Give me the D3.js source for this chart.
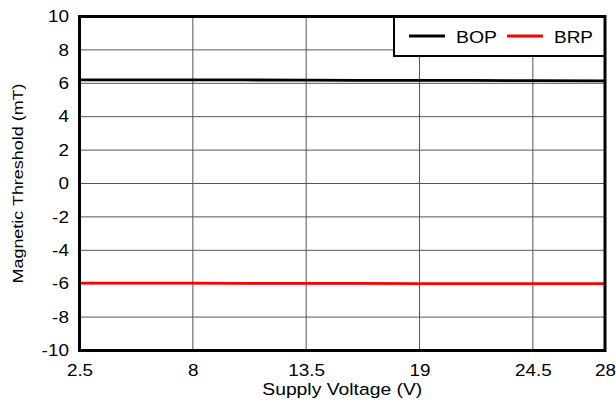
<!DOCTYPE html>
<html><head><meta charset="utf-8">
<script src="https://cdn.jsdelivr.net/npm/d3@7"></script>
<style>body{margin:0;background:#fff}text{font-family:"Liberation Sans",Arial,sans-serif}</style>
</head><body><svg id="c" width="616" height="404"></svg>
<script>
const voltages = [2.5, 5, 8, 10.5, 13.5, 16, 19, 21.5, 24.5, 28];
const bop = [6.21, 6.21, 6.20, 6.20, 6.19, 6.18, 6.17, 6.17, 6.16, 6.15];
const brp = [-5.97, -5.97, -5.97, -5.98, -5.98, -5.98, -5.99, -5.99, -5.99, -5.99];
const xTicks = [2.5, 8, 13.5, 19, 24.5, 28];
const yTicks = [-10, -8, -6, -4, -2, 0, 2, 4, 6, 8, 10];
const seriesNames = ["BOP", "BRP"];
const seriesColors = ["#000000", "#ff0000"];

const svg = d3.select("#c");
const L = 79.5, R = 605, T = 16.5, B = 350.5;
const SX = 1.18;
const x = d3.scaleLinear().domain([2.5, 28]).range([L, R]);
const y = d3.scaleLinear().domain([-10, 10]).range([B, T]);

// grid
svg.append("g").selectAll("line").data(xTicks.slice(1, -1)).join("line")
  .attr("x1", d => x(d)).attr("x2", d => x(d)).attr("y1", T).attr("y2", B)
  .attr("stroke", "#555").attr("stroke-width", 1);
svg.append("g").selectAll("line").data(yTicks.slice(1, -1)).join("line")
  .attr("y1", d => y(d)).attr("y2", d => y(d)).attr("x1", L).attr("x2", R)
  .attr("stroke", "#555").attr("stroke-width", 1);

// lines
const line = d3.line().x((d, i) => x(voltages[i])).y(d => y(d));
[bop, brp].forEach((s, k) => {
  svg.append("path").attr("d", line(s)).attr("fill", "none")
    .attr("stroke", seriesColors[k]).attr("stroke-width", 2.8);
});

// axes labels
const xa = svg.append("g").attr("transform", `translate(0,${B})`)
  .call(d3.axisBottom(x).tickValues(xTicks).tickSize(0).tickPadding(14).tickFormat(d => String(d)));
xa.select(".domain").remove();
xa.selectAll("text").attr("font-size", 16).attr("fill", "#000")
  .attr("font-family", '"Liberation Sans",Arial,sans-serif').attr("transform", `scale(${SX},1)`);
const ya = svg.append("g").attr("transform", `translate(${L},0)`)
  .call(d3.axisLeft(y).tickValues(yTicks).tickSize(0).tickPadding(9).tickFormat(d => String(d)));
ya.select(".domain").remove();
ya.selectAll("text").attr("font-size", 16).attr("fill", "#000")
  .attr("font-family", '"Liberation Sans",Arial,sans-serif').attr("transform", `scale(${SX},1)`);

svg.append("text").attr("x", (L + R) / 2 - 80).attr("y", 395)
  .attr("font-size", 16).attr("textLength", 160).attr("lengthAdjust", "spacingAndGlyphs")
  .text("Supply Voltage (V)");
svg.append("text").attr("transform", `translate(23,${(T + B) / 2 + 100}) rotate(-90)`)
  .attr("font-size", 15).attr("textLength", 200).attr("lengthAdjust", "spacingAndGlyphs")
  .text("Magnetic Threshold (mT)");

// legend
const lg = svg.append("g");
lg.append("rect").attr("x", 394).attr("y", T).attr("width", R - 394).attr("height", 56 - T)
  .attr("fill", "#fff").attr("stroke", "#000").attr("stroke-width", 2);
const lx = [409, 507];
const tl = [41, 39];
seriesNames.forEach((n, k) => {
  lg.append("line").attr("x1", lx[k]).attr("x2", lx[k] + 36).attr("y1", 36).attr("y2", 36)
    .attr("stroke", seriesColors[k]).attr("stroke-width", 3);
  lg.append("text").attr("x", lx[k] + 47).attr("y", 42.5).attr("font-size", 16)
    .attr("textLength", tl[k]).attr("lengthAdjust", "spacingAndGlyphs").text(n);
});
// frame
svg.append("rect").attr("x", L).attr("y", T).attr("width", R - L).attr("height", B - T)
  .attr("fill", "none").attr("stroke", "#000").attr("stroke-width", 3);
</script></body></html>
